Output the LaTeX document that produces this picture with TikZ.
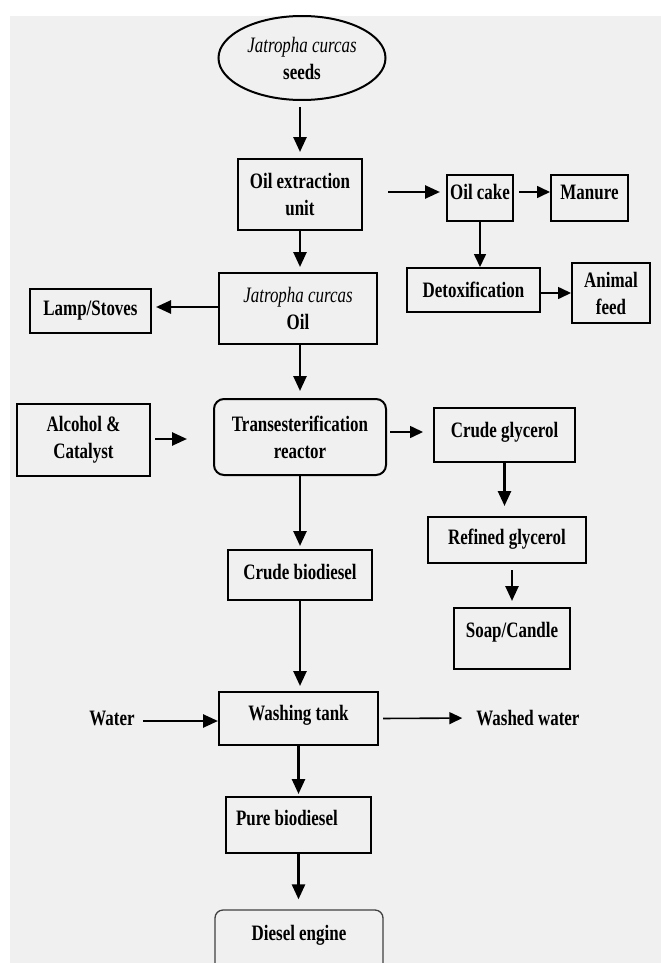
\documentclass[tikz,border=0pt]{standalone}
\usepackage{fontspec}
\setmainfont{Liberation Serif}[FakeStretch=0.77]
\usetikzlibrary{shapes.geometric,arrows.meta}
\definecolor{panelgray}{HTML}{F0F0F0}
\begin{document}
\begin{tikzpicture}[x=1pt, y=-1pt,
        every node/.style={font=\fontsize{22}{27}\selectfont\bfseries},
        box/.style={draw, line width=2pt, align=center, inner sep=0pt},
        roundbox/.style={box, rounded corners=10pt},
        lift/.style={text height=14.5pt, text depth=#1},
        flow/.style={-{Triangle[length=15pt,width=13pt]}, line width=2.6pt},
        thinflow/.style={-{Triangle[length=13pt,width=12pt]}, line width=1.6pt}]
    \clip (0,0) rectangle (661,963);
    \fill[panelgray] (10,16) rectangle (661,963);
    % main line
    \node[ellipse, draw, line width=2pt, minimum width=167pt, minimum height=84pt, inner sep=0pt, align=center] (seeds) at (302,58) {\textit{\mdseries Jatropha curcas}\\seeds};
    \node[box, minimum width=124pt, minimum height=71pt] (extract) at (300,194.5) {Oil extraction\\unit};
    \node[box, minimum width=158pt, minimum height=71pt] (oil) at (298,308.5) {\textit{\mdseries Jatropha curcas}\\Oil};
    \node[roundbox, minimum width=172pt, minimum height=76pt] (reactor) at (300,437) {Transesterification\\reactor};
    \node[box, minimum width=144pt, minimum height=50pt, lift=6pt] (crude) at (300,575) {Crude biodiesel};
    \node[box, minimum width=159pt, minimum height=53pt, lift=11pt] (wash) at (298.5,718.5) {Washing tank};
    \node[box, text width=125pt, align=flush left, inner xsep=10pt, minimum height=56pt, lift=14pt] (pure) at (298.5,825) {Pure biodiesel};
    \node[roundbox, rounded corners=8pt, line width=1.3pt, draw=black!75, minimum width=168pt, minimum height=80pt, lift=34pt] (engine) at (299,950) {Diesel engine};
    % side products
    \node[box, minimum width=66pt, minimum height=46pt, lift=12pt] (cake) at (480,198) {Oil cake};
    \node[box, minimum width=77pt, minimum height=46pt, lift=12pt] (manure) at (589.5,198) {Manure};
    \node[box, minimum width=133pt, minimum height=44pt] (detox) at (473.5,290) {Detoxification};
    \node[box, minimum width=78pt, minimum height=60pt] (feed) at (611,293) {Animal\\feed};
    \node[box, minimum width=121pt, minimum height=44pt] (lamp) at (90.5,311) {Lamp/Stoves};
    \node[box, minimum width=133pt, minimum height=72pt] (alcohol) at (83.5,440) {Alcohol \&\\Catalyst};
    \node[box, minimum width=141pt, minimum height=54pt, lift=10pt] (cglyc) at (504.5,435) {Crude glycerol};
    \node[box, minimum width=158pt, minimum height=46pt, lift=6pt] (rglyc) at (507,540) {Refined glycerol};
    \node[box, minimum width=116pt, minimum height=61pt, lift=17pt] (soap) at (512,638.5) {Soap/Candle};
    \node[inner sep=0pt] (water) at (112,718) {Water};
    \node[inner sep=0pt] (washed) at (528,718) {Washed water};
    % arrows
    \draw[flow, shorten <=6pt, shorten >=6pt] (extract.north |- seeds.south) -- (extract.north);
    \draw[flow, shorten >=5pt] (extract.south) -- (extract.south |- oil.north);
    \draw[flow, shorten <=25pt, shorten >=6pt] ([yshift=2.5pt]extract.east) -- ([yshift=6pt]cake.west);
    \draw[thinflow, shorten <=5pt] ([yshift=6pt]cake.east) -- ([yshift=6pt]manure.west);
    \draw[thinflow] (cake.south) -- (cake.south |- detox.north);
    \draw[thinflow] ([yshift=-3pt]detox.east) -- (feed.west);
    \draw[flow, shorten >=4pt] ([yshift=1.5pt]oil.west) -- ([yshift=4pt]lamp.east);
    \draw[flow, shorten >=7pt] (reactor.north |- oil.south) -- (reactor.north);
    \draw[flow, shorten <=4pt, shorten >=26pt] ([yshift=1pt]alcohol.east) -- ([yshift=-2pt]reactor.west);
    \draw[thinflow, shorten <=3pt, shorten >=10pt] ([yshift=5pt]reactor.east) -- ([yshift=3pt]cglyc.west);
    \draw[flow, shorten >=10pt] (cglyc.south) -- (cglyc.south |- rglyc.north);
    \draw[flow, shorten <=6pt, shorten >=6pt] (soap.north |- rglyc.south) -- (soap.north);
    \draw[flow, shorten >=3pt] (reactor.south) -- (crude.north);
    \draw[flow, shorten >=5pt] (crude.south) -- (crude.south |- wash.north);
    \draw[flow, shorten <=8pt] ([yshift=-3pt]water.east) -- ([yshift=-2.5pt]wash.west);
    \draw[thinflow, shorten <=4pt, shorten >=14pt] (wash.east) -- (washed.west);
    \draw[flow, shorten >=2pt] (wash.south) -- (wash.south |- pure.north);
    \draw[flow, shorten >=10pt] (pure.south) -- (pure.south |- engine.north);
\end{tikzpicture}
\end{document}
